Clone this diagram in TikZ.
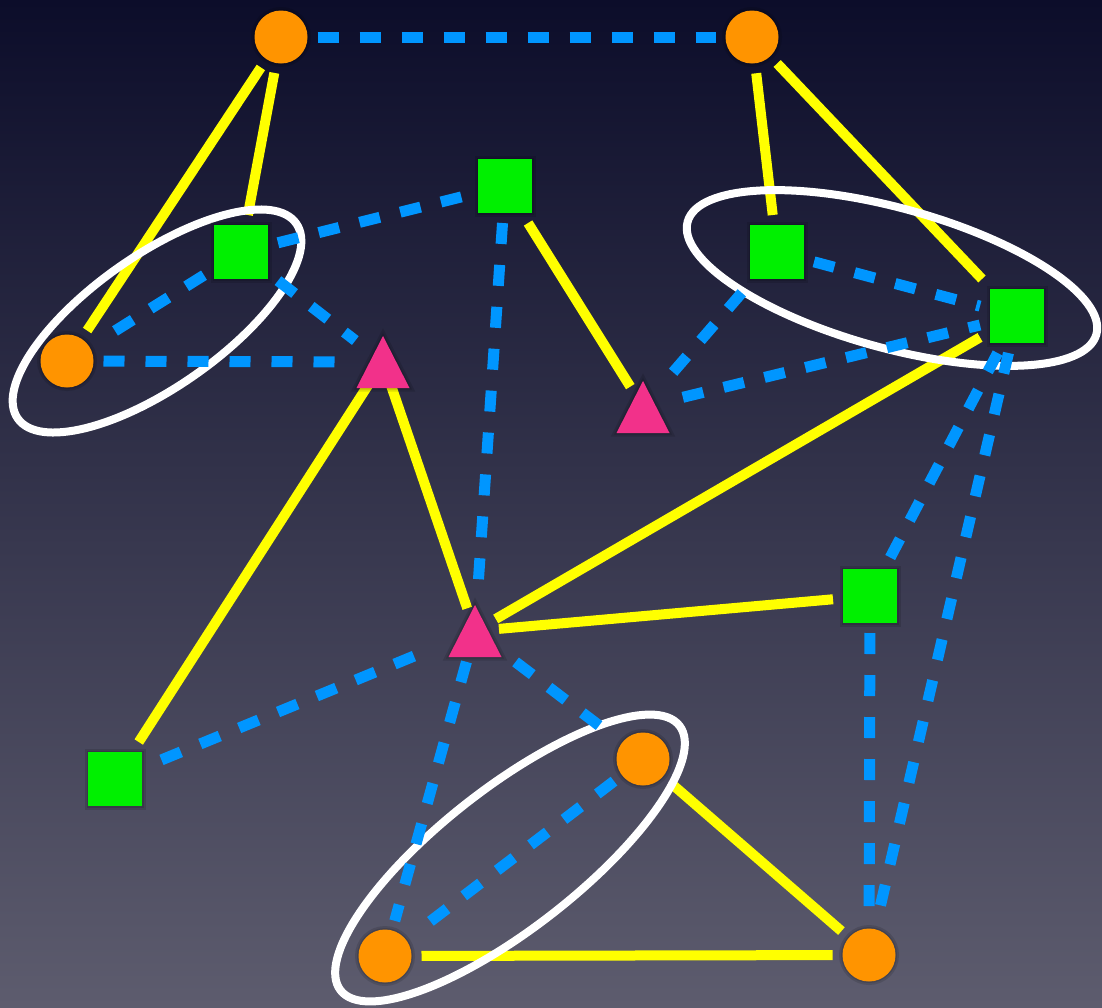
\documentclass[tikz,border=0pt]{standalone}
\definecolor{bgtop}{HTML}{0C0D2A}
\definecolor{bgbot}{HTML}{5D5C6E}
\definecolor{dotorange}{HTML}{FF9400}
\definecolor{boxgreen}{HTML}{00F000}
\definecolor{tripink}{HTML}{F2318A}
\definecolor{linkblue}{HTML}{0096FF}
\definecolor{linkyellow}{HTML}{FFFF00}
\pgfdeclarelayer{bg}
\pgfdeclarelayer{links}
\pgfsetlayers{bg,links,main}
\begin{document}
\begin{tikzpicture}[x=1pt,y=-1pt,
  halo/.style={preaction={draw=black,draw opacity=0.12,line width=7pt},
               preaction={draw=black,draw opacity=0.12,line width=3pt}},
  dot/.style={circle,fill=dotorange,minimum size=53pt,inner sep=0pt,outer sep=10pt,halo},
  box/.style={rectangle,fill=boxgreen,minimum size=54pt,inner sep=0pt,outer sep=10pt,halo},
  tri/.style={circle,minimum size=40pt,inner sep=0pt,outer sep=4pt},
  strong/.style={draw=linkyellow,line width=10pt},
  weak/.style={draw=linkblue,line width=11pt,dash pattern=on 21pt off 21pt},
  group/.style={draw=white,line width=8pt},
]
\useasboundingbox (0,0) rectangle (1102,1007);
\begin{pgfonlayer}{bg}
  \shade[top color=bgtop,bottom color=bgbot] (0,0) rectangle (1102,1007);
\end{pgfonlayer}

% circles
\node[dot] (o1) at (281,37) {};
\node[dot] (o2) at (752,37) {};
\node[dot] (o3) at (67,361) {};
\node[dot] (o4) at (643,759) {};
\node[dot] (o5) at (385,956) {};
\node[dot] (o6) at (869,955) {};
% squares
\node[box] (g1) at (505,186) {};
\node[box] (g2) at (241,252) {};
\node[box] (g3) at (777,252) {};
\node[box] (g4) at (1017,316) {};
\node[box] (g5) at (870,596) {};
\node[box] (g6) at (115,779) {};
% triangles (anchors for the links, filled below)
\node[tri] (t1) at (383,362) {};
\node[tri] (t2) at (643,407) {};
\node[tri] (t3) at (475,631) {};
\foreach \t in {t1,t2,t3}
  \fill[tripink,halo] ([shift={(-26.5,26)}]\t.center) -- ([shift={(26.5,26)}]\t.center)
     -- ([shift={(0,-26)}]\t.center) -- cycle;

\begin{pgfonlayer}{links}
  % solid links
  \foreach \a/\b in {o1/o3,o1/g2,o2/g3,o2/g4,g1/t2,t1/t3,t1/g6,g4/t3,t3/g5,o4/o6,o5/o6}
    \draw[strong] (\a) -- (\b);
  % groups
  \draw[group,rotate around={35:(157,321)}] (157,321) ellipse [x radius=170,y radius=66];
  \draw[group,rotate around={-15.4:(892,278)}] (892,278) ellipse [x radius=212,y radius=70];
  \draw[group,rotate around={38:(510,858)}] (510,858) ellipse [x radius=215,y radius=70];
  % dashed links (with extra clearance at the start / end where needed)
  \foreach \a/\b/\sa/\sb in {o1/o2/0/0,g2/g1/0/0,g2/o3/0/0,g2/t1/0/11,o3/t1/0/18,g1/t3/0/18,
      g3/g4/0/0,t2/g3/22/0,t2/g4/17/0,g4/g5/0/0,g4/o6/0/0,g5/o6/0/0,
      t3/g6/42/0,t3/o4/27/0,t3/o5/8/0,o4/o5/0/0}
    \draw[weak,shorten <=\sa pt,shorten >=\sb pt] (\a) -- (\b);
\end{pgfonlayer}
\end{tikzpicture}
\end{document}
